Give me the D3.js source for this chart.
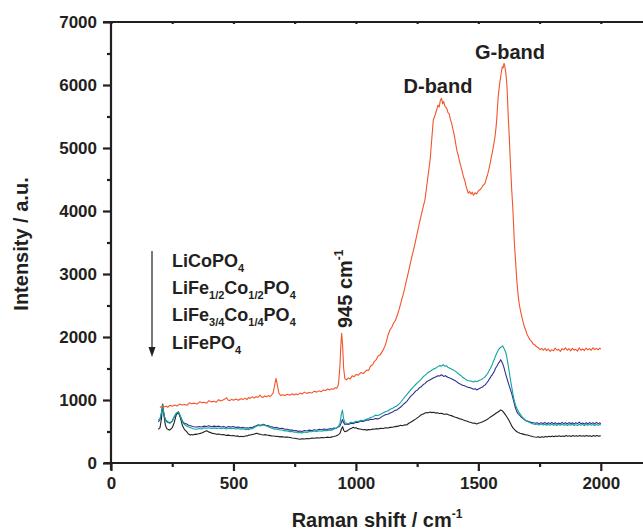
<!DOCTYPE html>
<html><head><meta charset="utf-8">
<script src="https://cdn.jsdelivr.net/npm/d3@7"></script>
<style>
html,body{margin:0;padding:0;background:#fff;overflow:hidden;}
text{font-family:"Liberation Sans",Arial,sans-serif;font-weight:bold;fill:#231f20;}
</style></head>
<body>
<svg id="chart" width="643" height="530"></svg>
<script>
// ---- data (Raman shift cm-1, intensity a.u.) ----
const orangeSpectrum = [[200,880],[208,905],[215,890],[225,900],[232,885],[240,915],[250,900],[260,920],[270,905],[280,935],[290,920],[300,930],[310,915],[320,955],[330,940],[340,950],[352,935],[363,973],[372,955],[380,965],[390,950],[400,990],[410,970],[420,980],[430,965],[440,1005],[448,985],[455,995],[463,1010],[472,1035],[478,1000],[485,990],[492,1010],[500,995],[510,1015],[520,995],[530,1020],[540,1010],[548,1030],[555,1005],[562,1040],[568,1025],[576,1050],[585,1030],[592,1055],[600,1040],[608,1079],[614,1050],[620,1040],[628,1065],[635,1050],[642,1070],[649,1055],[656,1080],[662,1110],[668,1230],[674,1344],[680,1220],[686,1100],[694,1070],[702,1085],[710,1070],[720,1090],[730,1075],[740,1100],[748,1080],[755,1095],[764,1085],[772,1110],[780,1095],[790,1125],[800,1105],[810,1120],[820,1110],[830,1140],[840,1125],[850,1145],[858,1130],[867,1160],[876,1150],[885,1175],[893,1160],[900,1180],[908,1170],[915,1195],[922,1185],[929,1250],[935,1550],[939,1900],[942,2059],[946,1850],[950,1500],[955,1340],[961,1320],[969,1350],[977,1335],[985,1385],[993,1370],[1000,1405],[1010,1395],[1020,1435],[1030,1420],[1044,1476],[1052,1470],[1060,1540],[1068,1560],[1075,1610],[1083,1640],[1090,1700],[1100,1720],[1112,1800],[1118,1850],[1125,1930],[1132,2040],[1139,2111],[1147,2160],[1155,2230],[1161,2260],[1167,2322],[1176,2430],[1185,2560],[1196,2720],[1207,2905],[1214,3020],[1221,3143],[1230,3300],[1240,3460],[1250,3640],[1262,3857],[1272,4020],[1282,4175],[1292,4480],[1303,4810],[1310,5150],[1316,5444],[1323,5520],[1330,5603],[1335,5680],[1340,5650],[1345,5760],[1350,5789],[1354,5700],[1358,5740],[1364,5660],[1371,5630],[1376,5560],[1381,5540],[1386,5450],[1391,5392],[1396,5300],[1402,5200],[1407,5080],[1412,4968],[1418,4880],[1425,4760],[1432,4660],[1439,4544],[1445,4480],[1450,4390],[1455,4330],[1459,4281],[1464,4310],[1470,4270],[1475,4300],[1480,4250],[1486,4290],[1493,4270],[1500,4320],[1510,4350],[1518,4400],[1527,4440],[1533,4520],[1538,4580],[1543,4660],[1548,4757],[1553,4850],[1558,4950],[1563,5060],[1568,5179],[1572,5320],[1575,5450],[1578,5640],[1581,5814],[1585,5950],[1588,6050],[1592,6150],[1595,6238],[1598,6290],[1601,6270],[1605,6344],[1608,6300],[1612,6200],[1616,6027],[1619,5800],[1622,5500],[1626,5200],[1629,4916],[1633,4600],[1636,4350],[1640,4100],[1643,3857],[1647,3500],[1652,3200],[1657,2900],[1663,2640],[1668,2500],[1673,2400],[1679,2300],[1684,2217],[1689,2150],[1694,2100],[1699,2040],[1704,2005],[1710,1960],[1717,1930],[1724,1890],[1731,1873],[1738,1845],[1745,1830],[1752,1800],[1758,1820],[1765,1790],[1772,1820],[1779,1785],[1786,1810],[1793,1770],[1800,1800],[1807,1780],[1814,1825],[1821,1790],[1828,1805],[1835,1770],[1842,1815],[1849,1795],[1856,1830],[1863,1790],[1870,1815],[1877,1780],[1884,1820],[1891,1790],[1898,1805],[1905,1775],[1912,1830],[1919,1790],[1926,1810],[1933,1785],[1940,1825],[1947,1795],[1954,1815],[1961,1790],[1968,1830],[1975,1800],[1982,1820],[1989,1795],[1996,1825],[2000,1805]];

const blueSpectrum = [[193,650],[200,690],[206,790],[211,910],[216,770],[222,690],[227,665],[234,650],[241,640],[250,665],[258,730],[266,780],[275,800],[283,740],[292,660],[300,630],[309,619],[317,600],[325,590],[333,580],[340,575],[350,570],[360,580],[370,572],[380,585],[390,578],[400,590],[410,575],[421,585],[432,577],[441,585],[450,570],[460,580],[470,565],[480,578],[490,570],[499,580],[510,565],[520,570],[530,558],[540,565],[548,555],[555,560],[562,552],[568,565],[576,560],[585,580],[592,590],[600,605],[611,600],[622,615],[632,600],[640,595],[650,578],[660,572],[668,560],[677,565],[688,548],[700,550],[710,535],[720,535],[730,522],[740,525],[748,512],[755,515],[764,502],[772,508],[780,500],[790,515],[800,508],[810,522],[820,515],[830,528],[840,520],[850,535],[860,528],[870,540],[882,532],[894,545],[902,540],[910,555],[918,550],[925,568],[930,575],[935,590],[940,640],[945,690],[950,640],[956,610],[962,618],[970,612],[980,630],[990,625],[1000,648],[1010,645],[1020,665],[1030,660],[1044,684],[1052,680],[1060,695],[1070,690],[1080,705],[1090,700],[1098,715],[1108,740],[1120,765],[1130,775],[1140,795],[1150,810],[1160,835],[1167,840],[1173,860],[1182,885],[1190,915],[1198,945],[1207,975],[1216,1020],[1225,1065],[1235,1100],[1245,1145],[1252,1160],[1260,1195],[1268,1215],[1275,1245],[1282,1260],[1290,1295],[1298,1310],[1307,1330],[1316,1350],[1325,1365],[1335,1385],[1342,1380],[1350,1400],[1358,1375],[1366,1385],[1375,1360],[1386,1345],[1398,1320],[1408,1300],[1420,1265],[1428,1250],[1435,1235],[1444,1225],[1452,1212],[1460,1200],[1470,1190],[1480,1170],[1487,1180],[1493,1160],[1502,1180],[1510,1195],[1516,1205],[1522,1225],[1528,1240],[1534,1270],[1540,1300],[1545,1335],[1549,1355],[1553,1385],[1557,1400],[1561,1430],[1566,1460],[1570,1505],[1576,1540],[1582,1585],[1586,1600],[1591,1640],[1595,1610],[1600,1570],[1605,1510],[1609,1450],[1614,1380],[1620,1300],[1628,1200],[1636,1106],[1641,1030],[1646,955],[1651,880],[1657,815],[1663,780],[1670,750],[1677,720],[1684,700],[1692,675],[1700,665],[1708,655],[1716,645],[1724,640],[1732,630],[1740,640],[1748,625],[1756,640],[1765,628],[1772,645],[1779,620],[1786,638],[1793,625],[1800,645],[1807,622],[1814,640],[1821,618],[1828,635],[1835,620],[1842,645],[1849,625],[1856,640],[1863,620],[1870,642],[1877,622],[1884,638],[1891,618],[1898,640],[1905,625],[1912,648],[1919,622],[1926,636],[1933,618],[1940,640],[1947,620],[1954,642],[1961,625],[1968,640],[1975,620],[1982,645],[1989,625],[1996,638],[2000,622]];

const tealSpectrum = [[193,683],[200,700],[206,800],[211,921],[216,780],[222,680],[227,656],[234,640],[241,630],[250,660],[258,730],[266,790],[275,814],[283,750],[292,650],[300,610],[309,587],[317,570],[325,560],[333,548],[340,540],[350,535],[360,548],[370,540],[380,558],[390,552],[400,560],[410,548],[421,558],[432,548],[441,556],[450,545],[460,555],[470,540],[480,552],[490,545],[499,552],[510,540],[520,548],[530,535],[540,542],[548,530],[555,538],[562,530],[568,540],[576,545],[585,565],[592,580],[600,595],[611,590],[622,605],[632,590],[640,578],[650,560],[660,548],[668,535],[677,540],[688,525],[700,525],[710,510],[720,510],[730,498],[740,500],[748,488],[755,492],[764,480],[772,485],[780,478],[790,492],[800,485],[810,500],[820,495],[830,508],[840,500],[850,512],[860,505],[870,518],[882,512],[894,526],[902,520],[910,540],[918,548],[925,570],[930,590],[935,630],[940,760],[945,841],[950,700],[956,640],[962,632],[970,628],[980,645],[990,638],[1000,662],[1010,658],[1020,678],[1030,672],[1044,698],[1052,705],[1060,722],[1070,735],[1080,760],[1090,755],[1098,768],[1108,790],[1120,812],[1130,825],[1140,852],[1150,868],[1160,892],[1167,905],[1173,925],[1182,960],[1190,1000],[1198,1040],[1207,1080],[1216,1125],[1225,1170],[1235,1210],[1245,1250],[1252,1275],[1260,1305],[1268,1335],[1275,1372],[1282,1390],[1290,1420],[1298,1445],[1307,1465],[1316,1490],[1325,1505],[1335,1530],[1342,1545],[1350,1540],[1357,1560],[1364,1535],[1370,1545],[1375,1520],[1386,1500],[1398,1478],[1408,1450],[1420,1412],[1428,1390],[1435,1362],[1444,1340],[1452,1318],[1460,1305],[1470,1300],[1480,1285],[1487,1300],[1493,1290],[1502,1310],[1510,1322],[1516,1335],[1522,1352],[1528,1370],[1534,1400],[1540,1435],[1545,1472],[1549,1500],[1553,1532],[1557,1565],[1561,1610],[1566,1655],[1570,1700],[1576,1750],[1582,1795],[1586,1815],[1590,1835],[1595,1845],[1599,1860],[1603,1830],[1607,1800],[1612,1750],[1616,1688],[1621,1570],[1626,1450],[1631,1320],[1636,1212],[1641,1100],[1646,1000],[1651,930],[1657,870],[1663,820],[1670,780],[1677,740],[1684,712],[1692,680],[1700,662],[1708,645],[1716,630],[1724,620],[1732,612],[1740,620],[1748,605],[1756,618],[1765,602],[1772,615],[1779,598],[1786,612],[1793,600],[1800,618],[1807,598],[1814,612],[1821,596],[1828,610],[1835,600],[1842,615],[1849,598],[1856,612],[1863,595],[1870,610],[1877,598],[1884,615],[1891,596],[1898,608],[1905,595],[1912,615],[1919,600],[1926,610],[1933,595],[1940,612],[1947,598],[1954,615],[1961,600],[1968,612],[1975,596],[1982,610],[1989,598],[1996,612],[2000,603]];

const blackSpectrum = [[193,535],[200,560],[206,700],[211,937],[216,760],[222,600],[227,550],[234,530],[241,524],[250,560],[258,640],[266,760],[275,814],[283,720],[292,590],[300,530],[309,497],[316,460],[323,444],[330,452],[335,445],[343,458],[350,455],[358,465],[365,470],[372,480],[378,490],[385,505],[391,513],[396,500],[400,490],[408,482],[415,470],[424,465],[432,455],[441,460],[450,448],[460,452],[470,438],[480,442],[490,432],[500,436],[510,425],[518,430],[525,418],[532,425],[540,418],[548,428],[555,430],[562,442],[570,445],[578,455],[585,460],[590,466],[595,471],[602,462],[610,455],[616,448],[622,445],[630,450],[636,444],[645,438],[655,430],[665,428],[675,420],[682,422],[690,415],[700,418],[710,410],[720,412],[731,405],[740,398],[750,392],[760,385],[772,376],[780,385],[790,380],[800,390],[810,385],[820,396],[830,392],[840,402],[850,396],[860,405],[870,400],[882,410],[894,405],[902,415],[910,420],[918,428],[925,440],[930,455],[935,471],[941,540],[946,577],[950,520],[955,497],[960,505],[965,510],[970,525],[975,540],[982,552],[989,567],[995,555],[1000,558],[1008,545],[1015,540],[1022,535],[1030,528],[1037,532],[1044,522],[1052,530],[1060,528],[1068,538],[1075,535],[1082,545],[1090,540],[1100,550],[1112,548],[1120,558],[1130,556],[1140,565],[1150,568],[1160,578],[1173,585],[1182,598],[1190,592],[1198,605],[1207,603],[1216,630],[1225,650],[1235,675],[1245,700],[1255,728],[1265,760],[1275,778],[1283,792],[1289,800],[1296,798],[1303,808],[1310,800],[1318,805],[1325,792],[1332,798],[1340,785],[1350,788],[1360,775],[1371,778],[1380,762],[1390,752],[1400,735],[1410,722],[1418,712],[1425,700],[1432,695],[1439,682],[1447,672],[1455,662],[1462,650],[1470,642],[1478,630],[1485,635],[1493,620],[1500,630],[1510,642],[1520,660],[1530,680],[1539,700],[1548,725],[1556,745],[1565,770],[1572,790],[1580,810],[1586,825],[1591,842],[1596,835],[1600,820],[1608,780],[1616,735],[1623,690],[1630,640],[1636,590],[1643,550],[1650,520],[1656,500],[1663,485],[1670,472],[1680,462],[1690,450],[1700,445],[1710,432],[1718,425],[1724,418],[1731,412],[1738,408],[1745,418],[1752,405],[1760,418],[1767,410],[1774,422],[1781,412],[1788,425],[1795,415],[1802,428],[1809,418],[1816,430],[1823,420],[1830,432],[1837,422],[1844,430],[1851,420],[1858,435],[1865,424],[1872,432],[1879,422],[1886,436],[1893,426],[1900,434],[1907,424],[1914,436],[1921,425],[1928,433],[1935,423],[1942,436],[1949,426],[1956,432],[1963,422],[1970,435],[1977,425],[1984,436],[1991,426],[2000,433]];

const xTicks = [0, 500, 1000, 1500, 2000];
const xMinorTicks = [250, 750, 1250, 1750, 2250];
const yTicks = [0, 1000, 2000, 3000, 4000, 5000, 6000, 7000];
const yMinorTicks = [500, 1500, 2500, 3500, 4500, 5500, 6500];
const legendNames = [
  [["LiCoPO",""],["4","sub"]],
  [["LiFe",""],["1/2","sub"],["Co",""],["1/2","sub"],["PO",""],["4","sub"]],
  [["LiFe",""],["3/4","sub"],["Co",""],["1/4","sub"],["PO",""],["4","sub"]],
  [["LiFePO",""],["4","sub"]]
];

// ---- layout ----
const svg = d3.select("#chart");
const plotLeft = 111, plotTop = 22, plotBottom = 463;
const x = d3.scaleLinear().domain([0, 2200]).range([plotLeft, plotLeft + 2200 * 0.2449]);
const y = d3.scaleLinear().domain([0, 7000]).range([plotBottom, plotTop]);
const axisColor = "#231f20";

const line = d3.line().x(d => x(d[0])).y(d => y(d[1]));
const series = [
  {data: blackSpectrum, color: "#231f20"},
  {data: blueSpectrum, color: "#2e3192"},
  {data: tealSpectrum, color: "#10a59c"},
  {data: orangeSpectrum, color: "#f2542a"}
];
series.forEach(s => {
  svg.append("path").attr("d", line(s.data)).attr("fill", "none")
    .attr("stroke", s.color).attr("stroke-width", 1.1).attr("stroke-linejoin", "round");
});

// axes
const xAxis = d3.axisBottom(x).tickValues(xTicks).tickSize(8).tickPadding(6).tickFormat(d3.format("d"));
const gx = svg.append("g").attr("transform", `translate(0,${plotBottom})`).call(xAxis);
gx.select(".domain").remove();
gx.append("line").attr("x1", plotLeft - 7).attr("x2", 660).attr("y1", 0).attr("y2", 0);
const gxm = svg.append("g").attr("transform", `translate(0,${plotBottom})`)
  .call(d3.axisBottom(x).tickValues(xMinorTicks).tickSize(4).tickFormat(""));
gxm.select(".domain").remove();

const yAxis = d3.axisLeft(y).tickValues(yTicks).tickSize(8).tickPadding(6).tickFormat(d3.format("d"));
const gy = svg.append("g").attr("transform", `translate(${plotLeft},0)`).call(yAxis);
gy.select(".domain").remove();
gy.append("line").attr("x1", 0).attr("x2", 0).attr("y1", plotTop).attr("y2", plotBottom + 7);
const gym = svg.append("g").attr("transform", `translate(${plotLeft},0)`)
  .call(d3.axisLeft(y).tickValues(yMinorTicks).tickSize(4).tickFormat(""));
gym.select(".domain").remove();

// top frame
const gt = svg.append("g").attr("transform", `translate(0,${plotTop})`)
  .call(d3.axisBottom(x).tickValues(xTicks.concat(xMinorTicks)).tickSize(2).tickFormat(""));
gt.select(".domain").remove();
gt.append("line").attr("x1", plotLeft - 8).attr("x2", 660).attr("y1", 0).attr("y2", 0);

svg.selectAll("g line").attr("stroke", axisColor).attr("stroke-width", 2.2);
svg.selectAll("g text").attr("font-size", 17).attr("fill", axisColor)
  .style("font-family", '"Liberation Sans",Arial,sans-serif').style("font-weight", "bold");

// axis titles
const xt = svg.append("text").attr("x", 377).attr("y", 527).attr("text-anchor", "middle").attr("font-size", 20);
xt.append("tspan").text("Raman shift / cm");
xt.append("tspan").text("-1").attr("font-size", 12).attr("dy", -9);

svg.append("text").attr("transform", "translate(28,244) rotate(-90)")
  .attr("text-anchor", "middle").attr("font-size", 20).text("Intensity / a.u.");

// annotations
svg.append("text").attr("x", 438).attr("y", 93).attr("text-anchor", "middle").attr("font-size", 20).text("D-band");
svg.append("text").attr("x", 510).attr("y", 59).attr("text-anchor", "middle").attr("font-size", 20).text("G-band");
const ann = svg.append("text").attr("transform", "translate(351.5,328) rotate(-90)").attr("font-size", 20);
ann.append("tspan").text("945 cm");
ann.append("tspan").text("-1").attr("font-size", 12).attr("dy", -9);

// legend
const baselines = [267, 294, 321, 349];
legendNames.forEach((parts, i) => {
  const t = svg.append("text").attr("x", 172).attr("y", baselines[i]).attr("font-size", 18);
  let shifted = false;
  parts.forEach(p => {
    const ts = t.append("tspan").text(p[0]);
    if (p[1] === "sub") { ts.attr("font-size", 11).attr("dy", shifted ? 0 : 5); shifted = true; }
    else { ts.attr("dy", shifted ? -5 : 0); shifted = false; }
  });
});
svg.append("line").attr("x1", 152).attr("x2", 152).attr("y1", 251).attr("y2", 349)
  .attr("stroke", axisColor).attr("stroke-width", 1.2);
svg.append("path").attr("d", "M148.5,347 L155.5,347 L152,357 Z").attr("fill", axisColor);
</script>
</body></html>
